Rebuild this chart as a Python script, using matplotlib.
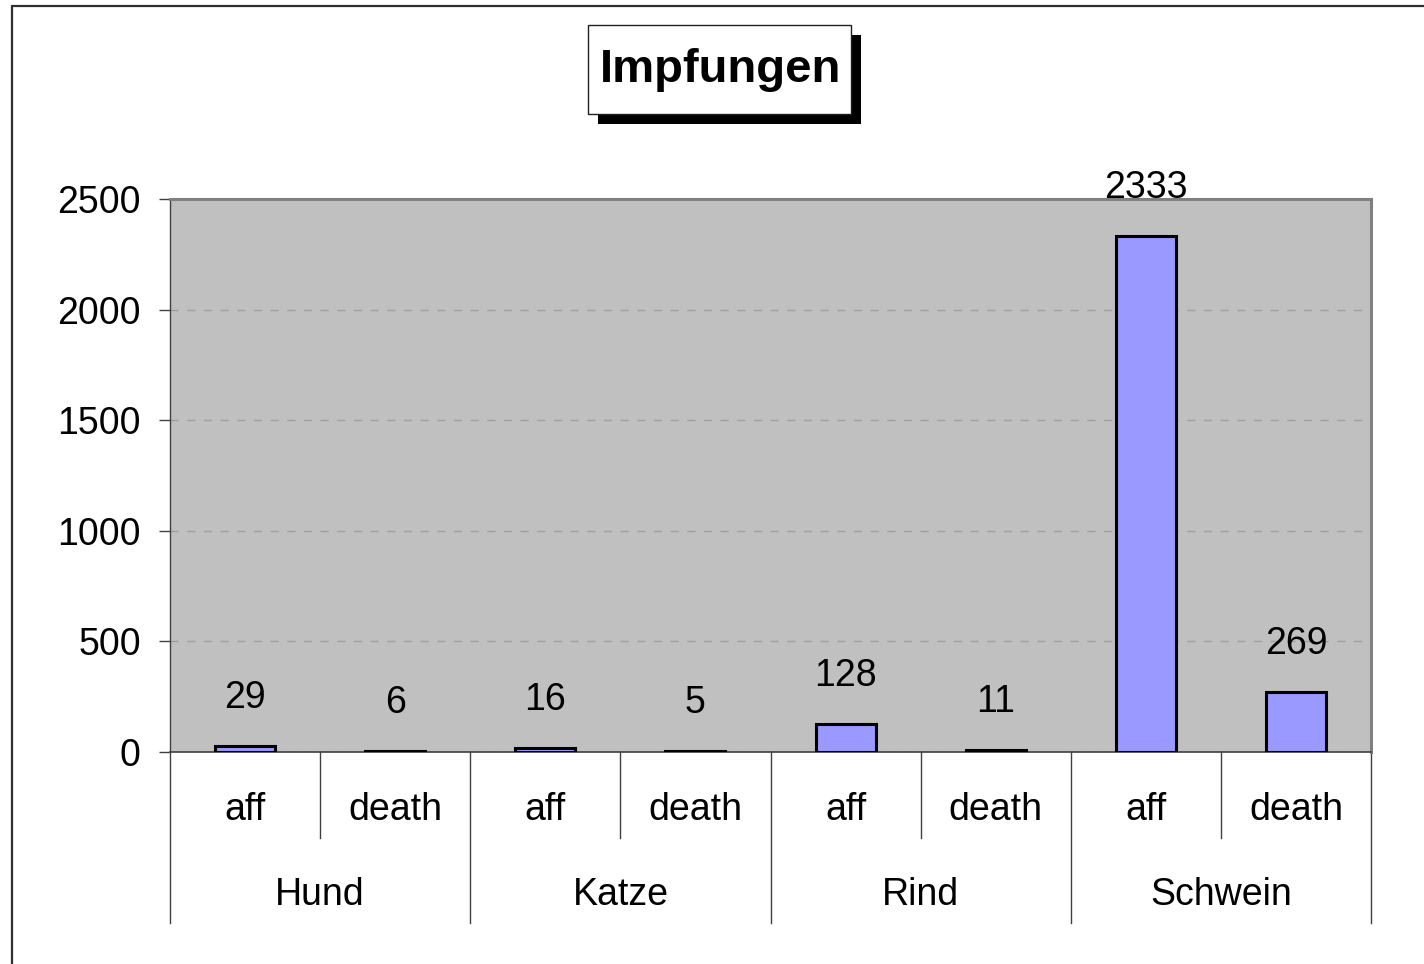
import matplotlib
matplotlib.use("Agg")
import matplotlib.pyplot as plt
from matplotlib.patches import Rectangle

plt.rcParams['font.family'] = ['Liberation Sans', 'DejaVu Sans']

# data
tiere = ['Hund', 'Katze', 'Rind', 'Schwein']
arten = ['aff', 'death']
werte = [29, 6, 16, 5, 128, 11, 2333, 269]
y_ticks = [0, 500, 1000, 1500, 2000, 2500]

W, H = 1424, 964
FS = 27
fig = plt.figure(figsize=(W / 100, H / 100), dpi=100)

# outer frame (runs off the right/bottom edge)
fig.patches.append(Rectangle((12 / W, -0.1), 1.2, 1 - 6 / H + 0.1, transform=fig.transFigure,
                             fill=False, edgecolor='#303030', linewidth=1.6))

ax = fig.add_axes([170 / W, 1 - 752 / H, (1371 - 170) / W, (752 - 199) / H])
ax.set_facecolor('#c0c0c0')

n = len(werte)
xs = [i + 0.5 for i in range(n)]
ax.bar(xs, werte, width=0.40, color='#9999ff', edgecolor='black', linewidth=2.2, zorder=3)

for x, v in zip(xs, werte):
    ax.annotate(str(v), (x, v), xytext=(0, 48), textcoords='offset pixels',
                ha='center', va='center', fontsize=FS, zorder=4, annotation_clip=False)

ax.set_xlim(0, n)
ax.set_ylim(0, 2500)
ax.set_yticks(y_ticks)
ax.set_yticklabels([str(t) for t in y_ticks], fontsize=FS)
ax.tick_params(axis='y', length=8, pad=13, color='#404040', width=1)
ax.set_xticks([])
ax.grid(axis='y', color='#a0a0a0', linestyle=(0, (6, 6)), linewidth=1, zorder=1)

for s in ['top', 'right']:
    ax.spines[s].set_color('#808080')
    ax.spines[s].set_linewidth(2.2)
ax.spines['left'].set_color('#404040')
ax.spines['left'].set_linewidth(1.0)
ax.spines['bottom'].set_color('#404040')
ax.spines['bottom'].set_linewidth(1.2)

# two-level category axis below the plot
trans = ax.get_xaxis_transform()
ph = 752 - 199
inner_h = (838 - 752) / ph
outer_h = (923 - 752) / ph
for i in range(n + 1):
    h = outer_h if i % 2 == 0 else inner_h
    ax.plot([i, i], [0, -h], transform=trans, color='#404040', linewidth=1.0, clip_on=False)
for i in range(n):
    ax.text(i + 0.5, -(810 - 752) / ph, arten[i % 2], transform=trans,
            ha='center', va='center', fontsize=FS)
for j, t in enumerate(tiere):
    ax.text(2 * j + 1, -(895 - 752) / ph, t, transform=trans,
            ha='center', va='center', fontsize=FS)

# title box with shadow
fig.patches.append(Rectangle((598 / W, 1 - 124 / H), 263 / W, 89 / H, transform=fig.transFigure,
                             facecolor='black', edgecolor='black', linewidth=0))
fig.patches.append(Rectangle((588 / W, 1 - 114 / H), 263 / W, 89 / H, transform=fig.transFigure,
                             facecolor='white', edgecolor='#202020', linewidth=1.0))
fig.text(721 / W, 1 - 70 / H, 'Impfungen', ha='center', va='center',
         fontsize=34, fontweight='bold')

fig.savefig('out.png', dpi=100)
